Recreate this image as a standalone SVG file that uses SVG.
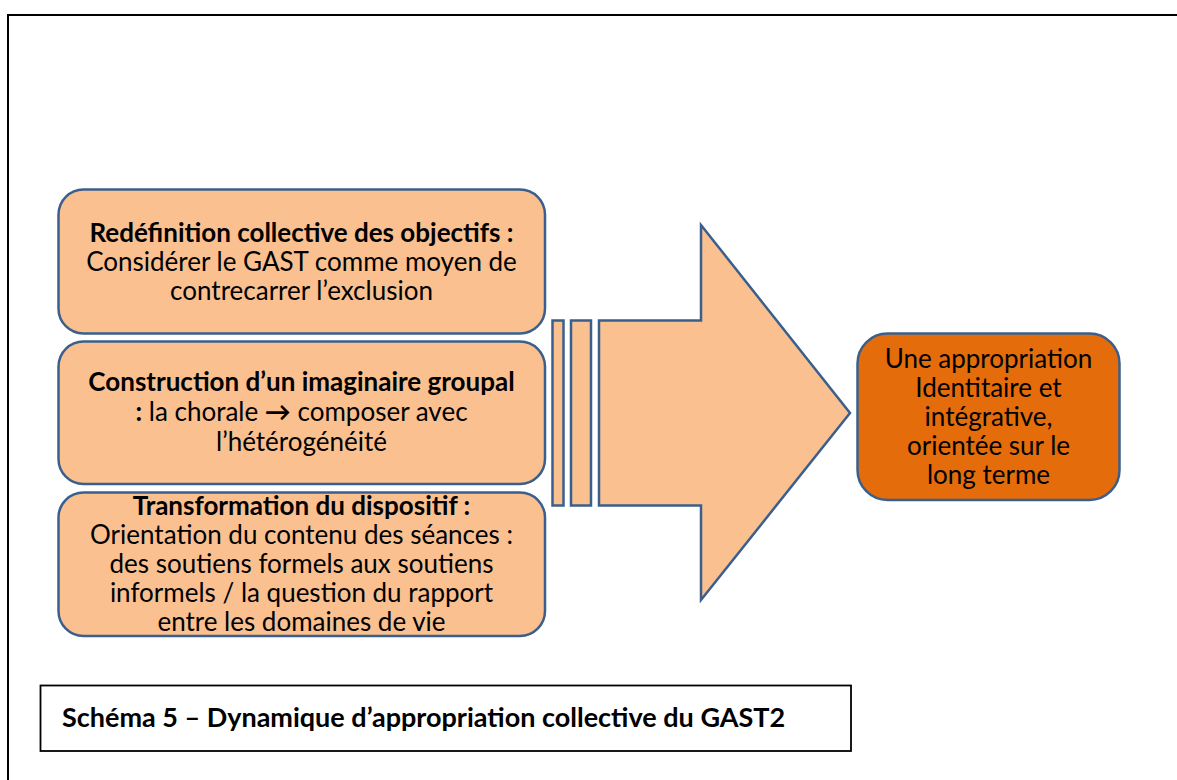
<svg xmlns="http://www.w3.org/2000/svg" width="1177" height="780" viewBox="0 0 1177 780">
<style>
.box{fill:#FAC090;stroke:#3A5F8C;stroke-width:2.5}
.dark{fill:#E46C0A;stroke:#3A5F8C;stroke-width:2.5}
.t{font-family:Lato,"Liberation Sans",sans-serif;font-size:26px;fill:#000;text-anchor:middle}
.b{font-weight:bold}
.cap{font-family:Lato,"Liberation Sans",sans-serif;font-size:27px;font-weight:bold;fill:#000}
</style>
<rect width="1177" height="780" fill="#fff"/>
<rect id="frame" x="8" y="15" width="1200" height="800" fill="none" stroke="#000" stroke-width="2"/>
<g id="node1">
<rect class="box" x="58.5" y="189.5" width="486.5" height="144" rx="25"/>
<text class="t" x="301.5" y="242"><tspan class="b">Redéfinition collective des objectifs :</tspan><tspan x="301.5" y="271">Considérer le GAST comme moyen de</tspan><tspan x="301.5" y="300">contrecarrer l’exclusion</tspan></text>
</g>
<g id="node2">
<rect class="box" x="58.5" y="341.5" width="486.5" height="142.5" rx="25"/>
<text class="t" x="301.5" y="391"><tspan class="b">Construction d’un imaginaire groupal</tspan><tspan x="301.5" y="421"><tspan class="b">:</tspan> la chorale <tspan class="b">→</tspan> composer avec</tspan><tspan x="301.5" y="451">l’hétérogénéité</tspan></text>
</g>
<g id="node3">
<rect class="box" x="58.5" y="492.5" width="486.5" height="143.5" rx="25"/>
<text class="t" x="301.5" y="515"><tspan class="b">Transformation du dispositif :</tspan><tspan x="301.5" y="544">Orientation du contenu des séances  :</tspan><tspan x="301.5" y="573">des soutiens formels aux soutiens</tspan><tspan x="301.5" y="602">informels / la question du rapport</tspan><tspan x="301.5" y="631">entre les domaines de vie</tspan></text>
</g>
<g id="connectors">
<rect class="box" x="552.5" y="320.5" width="11" height="185"/>
<rect class="box" x="571" y="320.5" width="20" height="185"/>
<polygon class="box" points="599,320.5 701,320.5 701,225 850,413 701,600 701,505.5 599,505.5"/>
</g>
<g id="node4">
<rect class="dark" x="857.5" y="333.5" width="262" height="166.5" rx="30"/>
<text class="t" x="988.5" y="368">Une appropriation<tspan x="988.5" y="397">Identitaire et</tspan><tspan x="988.5" y="426">intégrative,</tspan><tspan x="988.5" y="455">orientée sur le</tspan><tspan x="988.5" y="484">long terme</tspan></text>
</g>
<g id="caption">
<rect x="40.5" y="685.5" width="810.5" height="65.5" fill="#fff" stroke="#000" stroke-width="1.8"/>
<text class="cap" x="62" y="727">Schéma 5 – Dynamique d’appropriation collective du GAST2</text>
</g>
</svg>
